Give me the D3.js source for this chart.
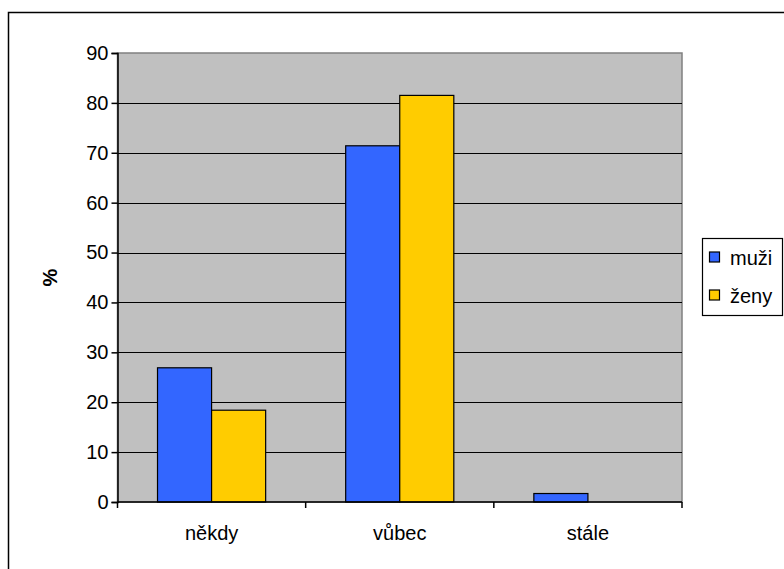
<!DOCTYPE html>
<html>
<head>
<meta charset="utf-8">
<script src="https://cdn.jsdelivr.net/npm/d3@7"></script>
<style>
  html, body { margin: 0; padding: 0; background: #fff; }
  svg { display: block; font-family: "Liberation Sans", Arial, sans-serif; }
</style>
</head>
<body>
<svg id="chart" width="784" height="569"></svg>
<script>
// Survey answers by category, split by sex (percent)
const categories = ["někdy", "vůbec", "stále"];
const seriesNames = ["muži", "ženy"];
const muzi = [26.9, 71.4, 1.7];
const zeny = [18.4, 81.5, 0];
const yTicks = [0, 10, 20, 30, 40, 50, 60, 70, 80, 90];
const colors = ["#3366ff", "#ffcc00"];

const svg = d3.select("#chart");
const W = 784, H = 569;
const FS = 20;

// outer chart frame
svg.append("rect")
  .attr("x", 8.5).attr("y", 12.5)
  .attr("width", W + 20).attr("height", H + 20)
  .attr("fill", "#fff").attr("stroke", "#000").attr("stroke-width", 1.5);

const plot = { left: 117.5, right: 682, top: 53, bottom: 502 };

const x = d3.scaleBand().domain(categories)
  .range([plot.left, plot.right]).paddingInner(0).paddingOuter(0);
const xs = d3.scaleBand().domain(seriesNames)
  .range([0, x.bandwidth()]).paddingInner(0).paddingOuter(0.74);
const y = d3.scaleLinear().domain([0, 90]).range([plot.bottom, plot.top]);

// plot background
svg.append("rect")
  .attr("x", plot.left).attr("y", plot.top)
  .attr("width", plot.right - plot.left).attr("height", plot.bottom - plot.top)
  .attr("fill", "#c0c0c0").attr("stroke", "#808080").attr("stroke-width", 1.5);

// horizontal gridlines
svg.append("g").selectAll("line")
  .data(yTicks.filter(d => d > 0 && d < 90))
  .join("line")
  .attr("x1", plot.left).attr("x2", plot.right)
  .attr("y1", d => Math.round(y(d)) + 0.5).attr("y2", d => Math.round(y(d)) + 0.5)
  .attr("stroke", "#000").attr("stroke-width", 1.2);

// bars
const data = categories.map((c, i) => ({ c, vals: [muzi[i], zeny[i]] }));
const groups = svg.append("g").selectAll("g")
  .data(data).join("g")
  .attr("transform", d => `translate(${x(d.c)},0)`);
groups.selectAll("rect")
  .data(d => d.vals.map((v, j) => ({ v, s: seriesNames[j], j })).filter(e => e.v > 0))
  .join("rect")
  .attr("x", e => xs(e.s))
  .attr("width", xs.bandwidth())
  .attr("y", e => y(e.v))
  .attr("height", e => y(0) - y(e.v))
  .attr("fill", e => colors[e.j])
  .attr("stroke", "#000").attr("stroke-width", 1.2);

// y axis
const yAxis = svg.append("g")
  .attr("transform", `translate(${plot.left},0)`)
  .call(d3.axisLeft(y).tickValues(yTicks).tickSize(6).tickPadding(3).tickFormat(d3.format("d")));
yAxis.select(".domain").attr("stroke", "#000").attr("stroke-width", 1.5);
yAxis.selectAll(".tick line").attr("stroke", "#000").attr("stroke-width", 1.5);
yAxis.selectAll(".tick text").attr("font-size", FS).attr("fill", "#000")
  .attr("font-family", "Liberation Sans, Arial, sans-serif");

// x axis
const xAxis = svg.append("g")
  .attr("transform", `translate(0,${plot.bottom})`)
  .call(d3.axisBottom(x).tickSize(0).tickPadding(0));
xAxis.select(".domain").remove();
svg.append("line")
  .attr("x1", plot.left).attr("x2", plot.right)
  .attr("y1", plot.bottom).attr("y2", plot.bottom)
  .attr("stroke", "#000").attr("stroke-width", 1.5);
xAxis.selectAll(".tick text").attr("font-size", FS).attr("fill", "#000")
  .attr("dy", 0).attr("y", 38)
  .attr("font-family", "Liberation Sans, Arial, sans-serif");
// category boundary ticks
const bounds = categories.map(c => x(c)).concat([x(categories[categories.length - 1]) + x.bandwidth()]);
svg.append("g").selectAll("line").data(bounds).join("line")
  .attr("x1", d => d).attr("x2", d => d)
  .attr("y1", plot.bottom).attr("y2", plot.bottom + 6)
  .attr("stroke", "#000").attr("stroke-width", 1.5);

// y axis title
svg.append("text")
  .attr("transform", `translate(57,${(plot.top + plot.bottom) / 2}) rotate(-90)`)
  .attr("text-anchor", "middle")
  .attr("font-size", FS).attr("font-weight", "bold")
  .text("%");

// legend
const lg = svg.append("g");
lg.append("rect")
  .attr("x", 702.5).attr("y", 238.5).attr("width", 80).attr("height", 77)
  .attr("fill", "#fff").attr("stroke", "#000").attr("stroke-width", 1.2);
seriesNames.forEach((s, i) => {
  const cy = 257 + i * 38;
  lg.append("rect")
    .attr("x", 709.5).attr("y", cy - 5).attr("width", 10).attr("height", 10)
    .attr("fill", colors[i]).attr("stroke", "#000").attr("stroke-width", 1.2);
  lg.append("text")
    .attr("x", 730).attr("y", cy + 8)
    .attr("font-size", FS).attr("fill", "#000")
    .text(s);
});
</script>
</body>
</html>
